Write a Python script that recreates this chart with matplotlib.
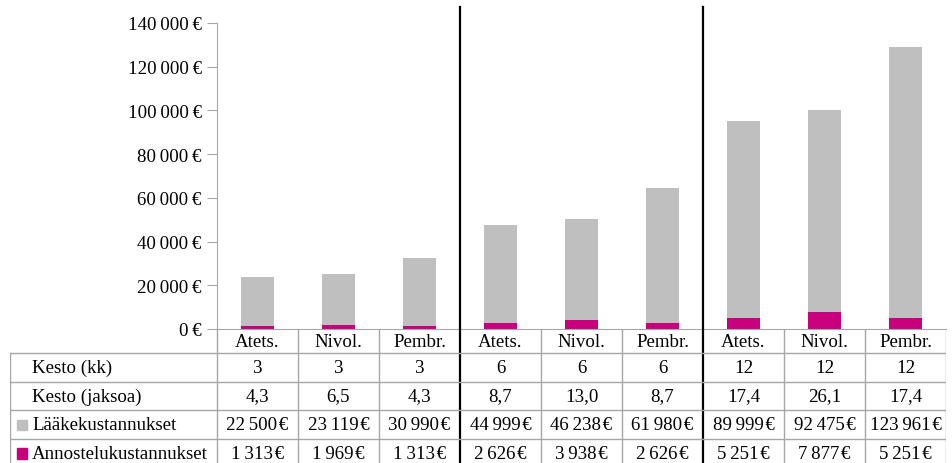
import numpy as np
import matplotlib.pyplot as plt
from matplotlib.patches import Rectangle
from matplotlib.transforms import blended_transform_factory

# data
laakkeet = ['Atets.', 'Nivol.', 'Pembr.'] * 3
kesto_kk = ['3', '3', '3', '6', '6', '6', '12', '12', '12']
kesto_jaksoa = ['4,3', '6,5', '4,3', '8,7', '13,0', '8,7', '17,4', '26,1', '17,4']
laakekustannukset = [22500, 23119, 30990, 44999, 46238, 61980, 89999, 92475, 123961]
annostelukustannukset = [1313, 1969, 1313, 2626, 3938, 2626, 5251, 7877, 5251]

GRAY = '#BFBFBF'
MAGENTA = '#C8007E'
LINE = '#A6A6A6'

plt.rcParams['font.family'] = ['Liberation Serif', 'DejaVu Serif']
plt.rcParams['font.size'] = 13.6


def euro(v):
    return f'{v:,}'.replace(',', '\u2009') + '\u200a€'


W, H = 953, 464
fig = plt.figure(figsize=(W / 100, H / 100), dpi=100)

# main bar axes
ax = fig.add_axes([217 / W, 1 - 330 / H, 729 / W, 306 / H])
x = np.arange(len(laakkeet))
ax.bar(x, annostelukustannukset, 0.4, color=MAGENTA)
ax.bar(x, laakekustannukset, 0.4, bottom=annostelukustannukset, color=GRAY)
ax.set_xlim(-0.5, 8.5)
ax.set_ylim(0, 140000)
yt = np.arange(0, 140001, 20000)
ax.set_yticks(yt)
ax.set_yticklabels(['0\u2009€' if v == 0 else f'{v:,}'.replace(',', '\u2009') + '\u2009€'
                    for v in yt])
ax.set_xticks([])
ax.tick_params(axis='y', length=7, color=LINE, pad=4)
for s in ['top', 'right']:
    ax.spines[s].set_visible(False)
for s in ['left', 'bottom']:
    ax.spines[s].set_color(LINE)

# black separators between durations
tr = blended_transform_factory(ax.transData, fig.transFigure)
for xs in [2.5, 5.5]:
    ax.plot([xs, xs], [1 - 8 / H, 0], color='black', lw=1.6, transform=tr,
            clip_on=False, zorder=5)

# table below the axes
unit = 729 / 9
x_left = -0.5 - 207 / unit
tab = fig.add_axes([10 / W, (464 - 468.7) / H, 936 / W, 138.7 / H])
tab.axis('off')
tab.set_xlim(x_left, 8.5)
tab.set_ylim(4.84, 0)

hdr = 0.84
rows = [hdr + i for i in range(5)]
for y in rows[:-1]:
    tab.plot([x_left, 8.5], [y, y], color=LINE, lw=1)
tab.plot([x_left, x_left], [hdr, 4.84], color=LINE, lw=1)
for xv in [-0.5, 0.5, 1.5, 3.5, 4.5, 6.5, 7.5, 8.5]:
    tab.plot([xv, xv], [0, 4.84], color=LINE, lw=1)

for i in range(9):
    tab.text(i, hdr / 2, laakkeet[i], ha='center', va='center')
    tab.text(i, hdr + 0.5, kesto_kk[i], ha='center', va='center')
    tab.text(i, hdr + 1.5, kesto_jaksoa[i], ha='center', va='center')
    tab.text(i, hdr + 2.5, euro(laakekustannukset[i]), ha='center', va='center')
    tab.text(i, hdr + 3.5, euro(annostelukustannukset[i]), ha='center', va='center')

labels = ['Kesto (kk)', 'Kesto (jaksoa)', 'Lääkekustannukset', 'Annostelukustannukset']
lx = x_left + 22 / unit
for j, lab in enumerate(labels):
    tab.text(lx, hdr + 0.5 + j, lab, ha='left', va='center')
for j, c in [(2, GRAY), (3, MAGENTA)]:
    tab.add_patch(Rectangle((x_left + 7 / unit, hdr + j + 0.32), 10 / unit, 0.36,
                            color=c))

fig.savefig('out.png', dpi=100)
